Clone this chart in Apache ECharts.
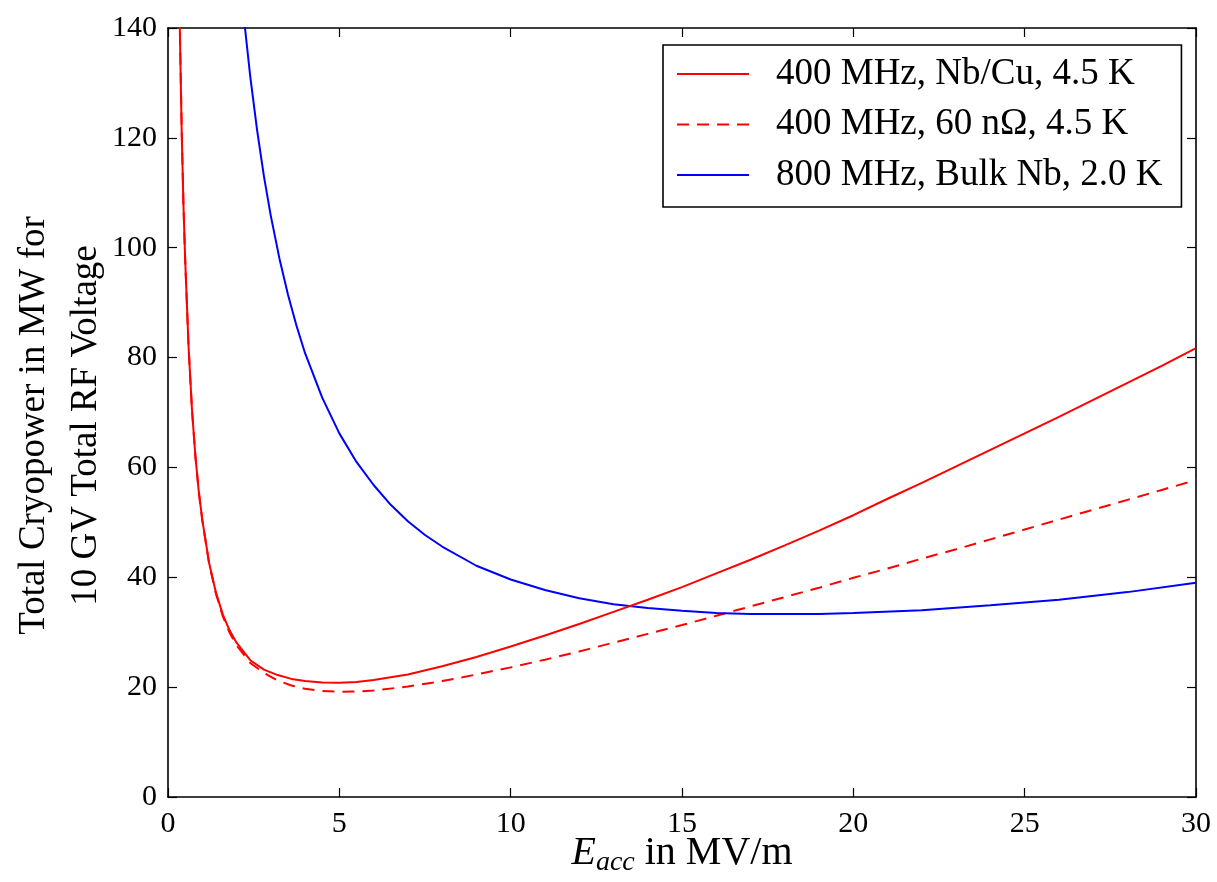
<!DOCTYPE html>
<html>
<head>
<meta charset="utf-8">
<script src="https://cdn.jsdelivr.net/npm/echarts@6/dist/echarts.min.js"></script>
<style>
html,body{margin:0;padding:0;background:#fff;}
#chart{width:1217px;height:882px;}
</style>
</head>
<body>
<div id="chart"></div>
<script>
// E_acc sample points (MV/m)
const eRed = [0.30,0.35,0.40,0.45,0.50,0.60,0.70,0.80,0.90,1.0,1.2,1.4,1.6,1.8,2.0,2.4,2.8,3.2,3.6,4.0,4.5,5.0,5.5,6.0,7,8,9,10,11,12,13,14,15,16,17,18,19,20,21,22,23,24,25,26,27,28,29,30];
// 400 MHz, Nb/Cu, 4.5 K (MW)
const pNbCu = [160,138,121,108,98,82,70.5,62,55.5,50.5,42.6,37.2,33.2,30.3,28.1,24.9,23.2,22.2,21.5,21.1,20.85,20.8,20.95,21.3,22.3,23.8,25.5,27.4,29.4,31.5,33.7,35.9,38.2,40.7,43.2,45.8,48.5,51.3,54.3,57.2,60.2,63.2,66.2,69.2,72.3,75.4,78.5,81.7];
// 400 MHz, 60 nOhm, 4.5 K (MW)
const p60n = [161,138.5,121.5,108,98,82,70.5,62,55.5,50.4,42.5,37.0,32.9,29.9,27.6,24.4,22.6,21.2,20.3,19.7,19.3,19.15,19.2,19.4,20.1,21.1,22.3,23.6,25.0,26.5,28.1,29.7,31.3,33.0,34.7,36.4,38.1,39.9,41.6,43.4,45.1,46.9,48.7,50.5,52.3,54.1,55.9,57.7];
// 800 MHz, Bulk Nb, 2.0 K
const eBlue = [2.0,2.2,2.4,2.6,2.8,3.0,3.25,3.5,3.75,4.0,4.5,5.0,5.5,6.0,6.5,7.0,7.5,8.0,9,10,11,12,13,14,15,16,17,18,19,20,22,24,26,28,30];
const pBulk = [156.7,142.7,131.2,121.4,113.0,105.8,98.1,91.5,85.8,80.8,72.7,66.2,61.0,56.8,53.2,50.2,47.7,45.6,42.1,39.6,37.7,36.2,35.1,34.4,33.9,33.5,33.3,33.3,33.3,33.5,34.0,34.9,35.9,37.3,39.0];

const seriesNames = ['400 MHz, Nb/Cu, 4.5 K', '400 MHz, 60 n\u03A9, 4.5 K', '800 MHz, Bulk Nb, 2.0 K'];

const pair = (xs, ys) => xs.map((x, i) => [x, ys[i]]);
const FONT = 'Liberation Serif';

const chart = echarts.init(document.getElementById('chart'), null, {renderer: 'canvas'});

const axisCommon = {
  axisLine: {show: true, onZero: false, lineStyle: {color: '#000', width: 1.6}},
  axisTick: {show: true, inside: true, length: 9, lineStyle: {color: '#000', width: 1.2}},
  splitLine: {show: false},
};

chart.setOption({
  animation: false,
  backgroundColor: '#fff',
  grid: {left: 168, right: 21, top: 28, bottom: 85, containLabel: false, outerBoundsMode: 'none'},
  xAxis: [
    Object.assign({
      type: 'value', min: 0, max: 30, interval: 5, position: 'bottom',
      axisLabel: {color: '#000', fontFamily: FONT, fontSize: 30, margin: 12},
      name: '{e|E}{s|acc}{n| in MV/m}',
      nameLocation: 'middle', nameGap: 32, nameMoveOverlap: false,
      nameTextStyle: {
        color: '#000', fontFamily: FONT, fontSize: 40,
        rich: {
          e: {fontFamily: FONT, fontStyle: 'italic', fontSize: 40, color: '#000', verticalAlign: 'middle', lineHeight: 44},
          s: {fontFamily: FONT, fontStyle: 'italic', fontSize: 28, color: '#000', verticalAlign: 'middle', padding: [20, 0, 0, 0]},
          n: {fontFamily: FONT, fontSize: 40, color: '#000', verticalAlign: 'middle', lineHeight: 44}
        }
      }
    }, axisCommon),
    Object.assign({
      type: 'value', min: 0, max: 30, interval: 5, position: 'top',
      axisLabel: {show: false}
    }, axisCommon)
  ],
  yAxis: [
    Object.assign({
      type: 'value', min: 0, max: 140, interval: 20, position: 'left',
      axisLabel: {color: '#000', fontFamily: FONT, fontSize: 30, margin: 11},
      name: 'Total Cryopower in MW for\n10 GV Total RF Voltage',
      nameLocation: 'middle', nameGap: 56, nameRotate: 90, nameMoveOverlap: false,
      nameTextStyle: {color: '#000', fontFamily: FONT, fontSize: 37, lineHeight: 52, padding: [0, 26, 0, 0]}
    }, axisCommon),
    Object.assign({
      type: 'value', min: 0, max: 140, interval: 20, position: 'right',
      axisLabel: {show: false}
    }, axisCommon)
  ],
  legend: {
    show: true,
    orient: 'vertical',
    left: 663, top: 45,
    padding: [9, 19, 12, 13],
    itemGap: 10.5,
    itemWidth: 72, itemHeight: 14,
    backgroundColor: '#fff',
    borderColor: '#000', borderWidth: 1.6, borderRadius: 0,
    itemStyle: {opacity: 0},
    textStyle: {color: '#000', fontFamily: FONT, fontSize: 37, lineHeight: 40, padding: [0, 0, 0, 22]},
    data: seriesNames
  },
  series: [
    {
      name: seriesNames[0], type: 'line', data: pair(eRed, pNbCu),
      showSymbol: false, symbol: 'none', smooth: false, clip: true,
      lineStyle: {color: '#ff0000', width: 2}, itemStyle: {color: '#ff0000'}, z: 3
    },
    {
      name: seriesNames[1], type: 'line', data: pair(eRed, p60n),
      showSymbol: false, symbol: 'none', smooth: false, clip: true,
      lineStyle: {color: '#ff0000', width: 2, type: [12, 8]}, itemStyle: {color: '#ff0000'}, z: 2
    },
    {
      name: seriesNames[2], type: 'line', data: pair(eBlue, pBulk),
      showSymbol: false, symbol: 'none', smooth: false, clip: true,
      lineStyle: {color: '#0000ff', width: 2}, itemStyle: {color: '#0000ff'}, z: 2
    }
  ]
});
</script>
</body>
</html>
